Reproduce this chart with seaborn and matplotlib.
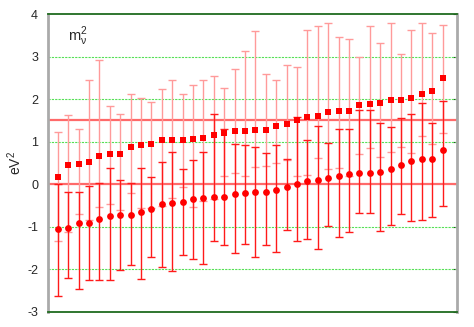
import numpy as np
import pandas as pd
import matplotlib
matplotlib.use("Agg")
import matplotlib.pyplot as plt
import seaborn as sns

# square series (upper points) with their error bar ends
sq_y = [0.18, 0.46, 0.48, 0.52, 0.67, 0.71, 0.71, 0.88, 0.93, 0.95, 1.03, 1.03, 1.05,
        1.07, 1.08, 1.16, 1.20, 1.25, 1.26, 1.27, 1.28, 1.36, 1.42, 1.51, 1.58, 1.61,
        1.71, 1.72, 1.73, 1.86, 1.89, 1.92, 1.97, 1.98, 2.02, 2.11, 2.19, 2.49]
sq_hi = [1.24, 1.62, 1.30, 2.44, 2.91, 1.84, 1.64, 2.11, 2.02, 1.93, 2.23, 2.44, 2.11,
         2.33, 2.44, 2.55, 2.27, 2.70, 3.14, 3.60, 2.60, 2.44, 2.81, 2.76, 3.63, 3.71,
         3.80, 3.47, 3.42, 3.00, 3.73, 3.33, 3.80, 3.07, 3.63, 3.80, 3.56, 3.75]
sq_lo = [-1.33, -1.12, -0.70, -0.85, -0.54, -0.47, -0.61, -0.20, -0.55, -0.55, -0.50,
         -0.33, -0.07, -0.53, -0.40, -0.34, 0.20, 0.26, 0.20, 0.40, 0.42, 0.50, 0.58,
         0.20, 0.22, 0.61, 0.35, 0.38, 0.20, 0.70, 0.85, 0.63, 0.75, 0.87, 0.73, 1.13,
         0.94, 1.20]

# circle series (lower points)
ci_y = [-1.05, -1.02, -0.92, -0.90, -0.82, -0.75, -0.73, -0.72, -0.65, -0.59, -0.46,
        -0.44, -0.41, -0.35, -0.33, -0.31, -0.29, -0.23, -0.20, -0.19, -0.17, -0.13,
        -0.06, 0.00, 0.08, 0.11, 0.15, 0.19, 0.25, 0.26, 0.26, 0.30, 0.36, 0.46, 0.54,
        0.59, 0.59, 0.81]
ci_hi = [0.00, -0.17, -0.17, -0.05, 0.02, 0.38, 0.09, 0.02, 0.39, 0.16, 0.53, 0.77,
         0.37, 0.58, 0.75, 1.64, 1.31, 0.94, 0.92, 0.87, 0.73, 0.92, 0.59, 1.57, 1.05,
         1.36, 0.98, 1.29, 1.31, 1.74, 1.74, 1.45, 1.35, 1.56, 1.65, 1.91, 1.45, 1.95]
ci_lo = [-2.63, -2.20, -2.45, -2.24, -2.24, -2.24, -2.02, -1.89, -2.23, -1.70, -1.95,
         -2.04, -1.66, -1.75, -1.88, -1.33, -1.43, -1.62, -1.41, -1.72, -1.43, -1.58,
         -1.08, -1.33, -1.28, -1.51, -0.99, -1.23, -1.13, -0.68, -0.68, -1.09, -0.96,
         -0.70, -0.86, -0.85, -0.76, -0.51]

ref_lines = [0.0, 1.5]
grid_levels = [-2, -1, 1, 2, 3]

sns.set_style("white")
plt.rcParams['font.family'] = ['Liberation Sans', 'DejaVu Sans']
plt.rcParams['axes.unicode_minus'] = False
plt.rcParams['mathtext.fontset'] = 'custom'
plt.rcParams['mathtext.rm'] = 'Liberation Sans'
plt.rcParams['mathtext.it'] = 'DejaVu Sans'

idx = np.arange(len(sq_y))
df = pd.DataFrame({"i": idx, "sq": sq_y, "ci": ci_y})

fig = plt.figure(figsize=(4.74, 3.27), dpi=100)
ax = fig.add_axes([0.101, 0.046, 0.863, 0.911])

for g in grid_levels:
    ax.axhline(g, color='#55e055', lw=0.8, ls=(0, (2, 1)), zorder=1)
for r in ref_lines:
    ax.axhline(r, color='#ff6a6a', lw=1.6, zorder=2)

sq = np.array(sq_y)
ci = np.array(ci_y)
ax.errorbar(idx, sq, yerr=[sq - np.array(sq_lo), np.array(sq_hi) - sq], fmt='none',
            ecolor='#ff9a9a', elinewidth=1.0, capsize=3, capthick=1.0, zorder=3)
ax.errorbar(idx, ci, yerr=[ci - np.array(ci_lo), np.array(ci_hi) - ci], fmt='none',
            ecolor='#ff1a1a', elinewidth=1.0, capsize=3, capthick=1.0, zorder=4)

sns.scatterplot(data=df, x="i", y="sq", marker='s', s=22, color='#ff0000',
                linewidth=0, ax=ax, zorder=5)
sns.scatterplot(data=df, x="i", y="ci", marker='o', s=24, color='#ff0000',
                linewidth=0, ax=ax, zorder=5)

ax.set_xlim(-0.96, 38.37)
ax.set_ylim(-3, 4)
ax.set_xticks([])
ax.set_yticks(range(-3, 5))
ax.tick_params(axis='y', which='both', left=False, right=True, direction='in',
               length=3, width=0.8, color='#333333', labelsize=9, pad=7)
ax.set_xlabel("")
ax.set_ylabel("eV$^2$", fontsize=10, labelpad=2)

for side in ['top', 'bottom']:
    ax.spines[side].set_color('#1f6b1f')
    ax.spines[side].set_linewidth(1.3)
for side in ['left', 'right']:
    ax.spines[side].set_color('#aaaaaa')
    ax.spines[side].set_linewidth(2.0)

ax.text(0.05, 0.925, "m$^{2}_{\\mathrm{\\nu}}$", transform=ax.transAxes, fontsize=10.5,
        va='center', ha='left')

fig.savefig("out.png", dpi=100)
